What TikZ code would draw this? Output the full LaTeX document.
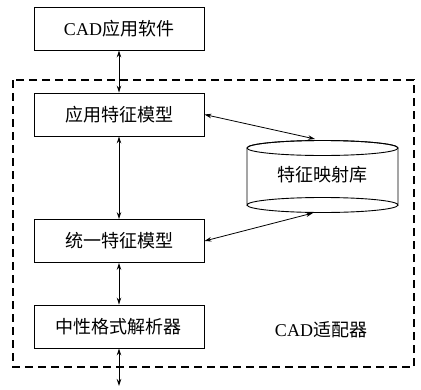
\documentclass[tikz,border=0pt]{standalone}
\usepackage{fontspec}
\setmainfont{Liberation Serif}
\newfontfamily\cjk{Noto Sans CJK SC}
\usetikzlibrary{shapes.geometric,arrows.meta}
\begin{document}
\begin{tikzpicture}[x=1pt,y=-1pt,
  label text/.style={font=\fontsize{18}{20}\selectfont},
  box/.style={draw,line width=0.9pt,minimum width=170pt,minimum height=43pt,label text},
  link/.style={line width=0.8pt,{Stealth[length=7pt,width=4.5pt]}-{Stealth[length=7pt,width=4.5pt]}},
  frame/.style={draw,line width=1.2pt,dash pattern=on 8pt off 5pt}]
\useasboundingbox (0,0) rectangle (421,389);
% outer adapter frame
\draw[frame] (13,80) rectangle (414,367);
% module boxes
\node[box] (cad) at (119,28.5) {CAD{\cjk 应用软件}};
\node[box] (app) at (119,114.5) {\cjk 应用特征模型};
\node[box] (uni) at (119,241) {\cjk 统一特征模型};
\node[box] (neu) at (119,326.5) {\cjk 中性格式解析器};
% feature mapping library (cylinder drawn by hand)
\draw[line width=0.9pt] (247,148) -- (247,205) arc[start angle=180,end angle=360,x radius=75.5,y radius=7.5]
  -- (398,148) arc[start angle=0,end angle=-180,x radius=75.5,y radius=7.5];
\draw[line width=0.9pt] (322.5,148) ellipse[x radius=75.5,y radius=7.5];
\draw[line width=0.9pt] (247,205) arc[start angle=180,end angle=0,x radius=75.5,y radius=7.5];
\node[label text] (lib) at (322.5,175) {\cjk 特征映射库};
\coordinate (libtop) at (315,139);
\coordinate (libbot) at (313,213);
\node[label text] (adp) at (321,330) {CAD{\cjk 适配器}};
\coordinate (out) at (119,386);
% connectors
\draw[link] (cad) -- (app);
\draw[link] (app) -- (uni);
\draw[link] (uni) -- (neu);
\draw[link] (neu) -- (out);
\draw[link] (app.east) -- (libtop);
\draw[link] (uni.east) -- (libbot);
\end{tikzpicture}
\end{document}
